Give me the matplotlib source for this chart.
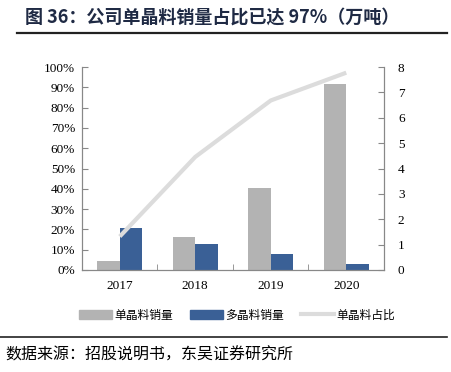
import matplotlib
matplotlib.use("Agg")
import matplotlib.pyplot as plt
import numpy as np
from matplotlib.lines import Line2D
from matplotlib.patches import Patch

plt.rcParams['font.family'] = ['Liberation Serif', 'Noto Sans CJK SC', 'DejaVu Sans']

# data (万吨 / %)
years = ['2017', '2018', '2019', '2020']
mono_sales = [0.35, 1.31, 3.23, 7.32]
multi_sales = [1.66, 1.01, 0.63, 0.24]
mono_share = [0.165, 0.557, 0.835, 0.972]

W, H = 452, 372
fig = plt.figure(figsize=(W / 100, H / 100), dpi=100)

x0, x1, y_top, y_bot = 82, 384, 67, 270
ax = fig.add_axes([x0 / W, 1 - y_bot / H, (x1 - x0) / W, (y_bot - y_top) / H])
ax2 = ax.twinx()

x = np.arange(len(years))
bw = 0.3
gray = '#b3b3b3'
blue = '#3a6096'
linec = '#dcdcdc'

ax2.bar(x - bw / 2, mono_sales, bw, color=gray, zorder=2)
ax2.bar(x + bw / 2, multi_sales, bw, color=blue, zorder=2)
ax.plot(x, mono_share, color=linec, lw=3, solid_capstyle='butt', zorder=3)
ax.set_zorder(ax2.get_zorder() + 1)
ax.patch.set_visible(False)

ax.set_xlim(-0.5, 3.5)
ax.set_ylim(0, 1)
ax2.set_ylim(0, 8)
ax.set_yticks(np.arange(0, 1.01, 0.1))
ax.set_yticklabels([f'{int(round(v * 100))}%' for v in np.arange(0, 1.01, 0.1)])
ax2.set_yticks(range(0, 9))

ax.set_xticks(x)
ax.set_xticklabels(years)
ax.set_xticks([0.5, 1.5, 2.5], minor=True)
ax.tick_params(axis='x', which='major', length=0, labelsize=9.5, pad=7)
ax.tick_params(axis='x', which='minor', length=4, direction='in', color='#888888')
ax.tick_params(axis='y', direction='in', length=4, labelsize=9.5, color='#888888', pad=5)
ax2.tick_params(axis='y', direction='in', length=4, labelsize=9.5, color='#888888', pad=10)

for a in (ax, ax2):
    a.spines['top'].set_visible(False)
    for s in ('left', 'right', 'bottom'):
        a.spines[s].set_color('#888888')
        a.spines[s].set_linewidth(0.8)

# title
fig.text(25 / W, 1 - 17 / H, '图 36：公司单晶料销量占比已达 97%（万吨）',
         fontsize=13, fontweight='bold', color='#1f2a44', va='center', ha='left',
         family=['Noto Sans CJK SC', 'DejaVu Sans'])
fig.add_artist(Line2D([17 / W, 447 / W], [1 - 33 / H, 1 - 33 / H], color='#222222', lw=1.6))

# legend
handles = [Patch(color=gray), Patch(color=blue), Line2D([], [], color=linec, lw=3)]
labels = ['单晶料销量', '多晶料销量', '单晶料占比']
fig.legend(handles, labels, loc='center', bbox_to_anchor=(237 / W, 1 - 315 / H),
           ncol=3, frameon=False, handlelength=2.8, handleheight=0.8, columnspacing=1.4,
           handletextpad=0.2, prop={'family': ['Noto Sans CJK SC'], 'size': 8.5})

# source
fig.add_artist(Line2D([0, 447 / W], [1 - 337 / H, 1 - 337 / H], color='#222222', lw=1.2))
fig.text(5 / W, 1 - 355 / H, '数据来源：招股说明书，东吴证券研究所', fontsize=11.5,
         va='center', ha='left', family=['Noto Sans CJK SC', 'DejaVu Sans'])

fig.savefig('out.png', dpi=100)
